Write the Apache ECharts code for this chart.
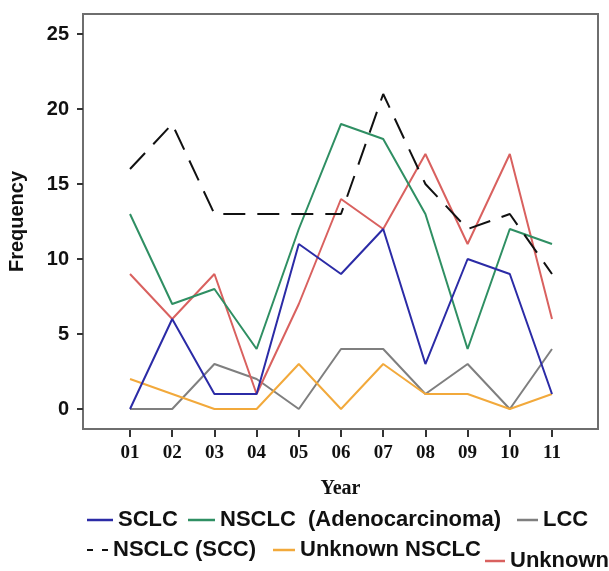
<!DOCTYPE html>
<html><head><meta charset="utf-8">
<script src="https://cdn.jsdelivr.net/npm/echarts@6/dist/echarts.min.js"></script>
<style>html,body{margin:0;padding:0;background:#fff}#c{width:609px;height:571px}</style>
</head><body><div id="c"></div>
<script>
const years = ['01','02','03','04','05','06','07','08','09','10','11'];
const yTicks = [0,5,10,15,20,25];
const sclc     = [0,6,1,1,11,9,12,3,10,9,1];
const adeno    = [13,7,8,4,12,19,18,13,4,12,11];
const lcc      = [0,0,3,2,0,4,4,1,3,0,4];
const scc      = [16,19,13,13,13,13,21,15,12,13,9];
const unkNsclc = [2,1,0,0,3,0,3,1,1,0,1];
const unknown  = [9,6,9,1,7,14,12,17,11,17,6];

const xPos = years.map((y,i)=>i+1);
const pts = arr => arr.map((v,i)=>[xPos[i], v]);

const C = {sclc:'#2b2ba6', adeno:'#2f8f63', lcc:'#7f7f7f', scc:'#111111', unk1:'#f2a93b', unk2:'#d9615f'};
const sans = 'Liberation Sans, Arial, sans-serif';
const serif = 'Liberation Serif, Times New Roman, serif';

function mkSeries(name, data, color, type){
  return {name, type:'line', data:pts(data), showSymbol:false, symbol:'none',
    xAxisIndex:0, yAxisIndex:0,
    lineStyle:{color, width:2, type:type||'solid'}, itemStyle:{color}, z: 2};
}
const legTxt = {fontFamily:sans, fontWeight:'bold', fontSize:22, color:'#111'};
function mkLegend(name, left, top, w, icon){
  return {data:[name], left, top, padding:0, itemWidth:w, itemHeight:2.5,
    icon: icon || 'rect', textStyle:legTxt, itemStyle:{borderWidth:0},
    formatter: n => n.replace(' (Adeno', '  (Adeno')};
}

const chart = echarts.init(document.getElementById('c'));
chart.setOption({
  animation:false,
  backgroundColor:'#fff',
  grid:[
    {left:83, top:14, right:11, bottom:142, containLabel:false, outerBoundsMode:'none',
     show:true, borderColor:'#6e6e6e', borderWidth:2, backgroundColor:'transparent'},
    {left:130, right:57, top:430, bottom:134, containLabel:false, outerBoundsMode:'none', show:false}
  ],
  xAxis:[
    {type:'value', gridIndex:0, min:-0.114, max:12.09, position:'bottom',
     name:'Year', nameLocation:'middle', nameGap:50,
     nameTextStyle:{fontFamily:serif, fontWeight:'bold', fontSize:20, color:'#111'},
     axisLine:{show:false, onZero:false}, splitLine:{show:false},
     axisTick:{show:false},
     axisLabel:{customValues:xPos, formatter:v=>years[Math.round(v)-1], margin:15,
       fontFamily:serif, fontWeight:'bold', fontSize:19, color:'#111'}},
    {type:'category', gridIndex:1, data:years, boundaryGap:false, position:'bottom',
     axisLine:{show:false, onZero:false}, axisLabel:{show:false}, axisTick:{show:false},
     splitLine:{show:true, interval:0, lineStyle:{color:'#333', width:2}}}
  ],
  yAxis:[
    {type:'value', gridIndex:0, min:-1.333, max:26.333, position:'left',
     name:'Frequency', nameLocation:'middle', nameGap:56,
     nameTextStyle:{fontFamily:sans, fontWeight:'bold', fontSize:20, color:'#111'},
     axisLine:{show:false, onZero:false}, splitLine:{show:false},
     axisTick:{show:true, inside:false, customValues:yTicks, length:6, lineStyle:{color:'#333', width:2}},
     axisLabel:{customValues:yTicks, margin:14, fontFamily:sans, fontWeight:'bold', fontSize:20, color:'#111'}},
    {type:'value', gridIndex:1, min:0, max:1, show:false, splitLine:{show:false}}
  ],
  legend:[
    mkLegend('SCLC', 87, 509, 26),
    mkLegend('NSCLC (Adenocarcinoma)', 188, 509, 27),
    mkLegend('LCC', 517, 509, 21),
    mkLegend('NSCLC (SCC)', 87, 539, 21, 'path://M0,0h6v2h-6z M15,0h6v2h-6z'),
    mkLegend('Unknown NSCLC', 273, 539, 22),
    mkLegend('Unknown', 485, 550, 20)
  ],
  series:[
    mkSeries('LCC', lcc, C.lcc),
    mkSeries('Unknown NSCLC', unkNsclc, C.unk1),
    mkSeries('Unknown', unknown, C.unk2),
    mkSeries('NSCLC (Adenocarcinoma)', adeno, C.adeno),
    mkSeries('SCLC', sclc, C.sclc),
    mkSeries('NSCLC (SCC)', scc, C.scc, [22,12])
  ]
});
</script></body></html>
